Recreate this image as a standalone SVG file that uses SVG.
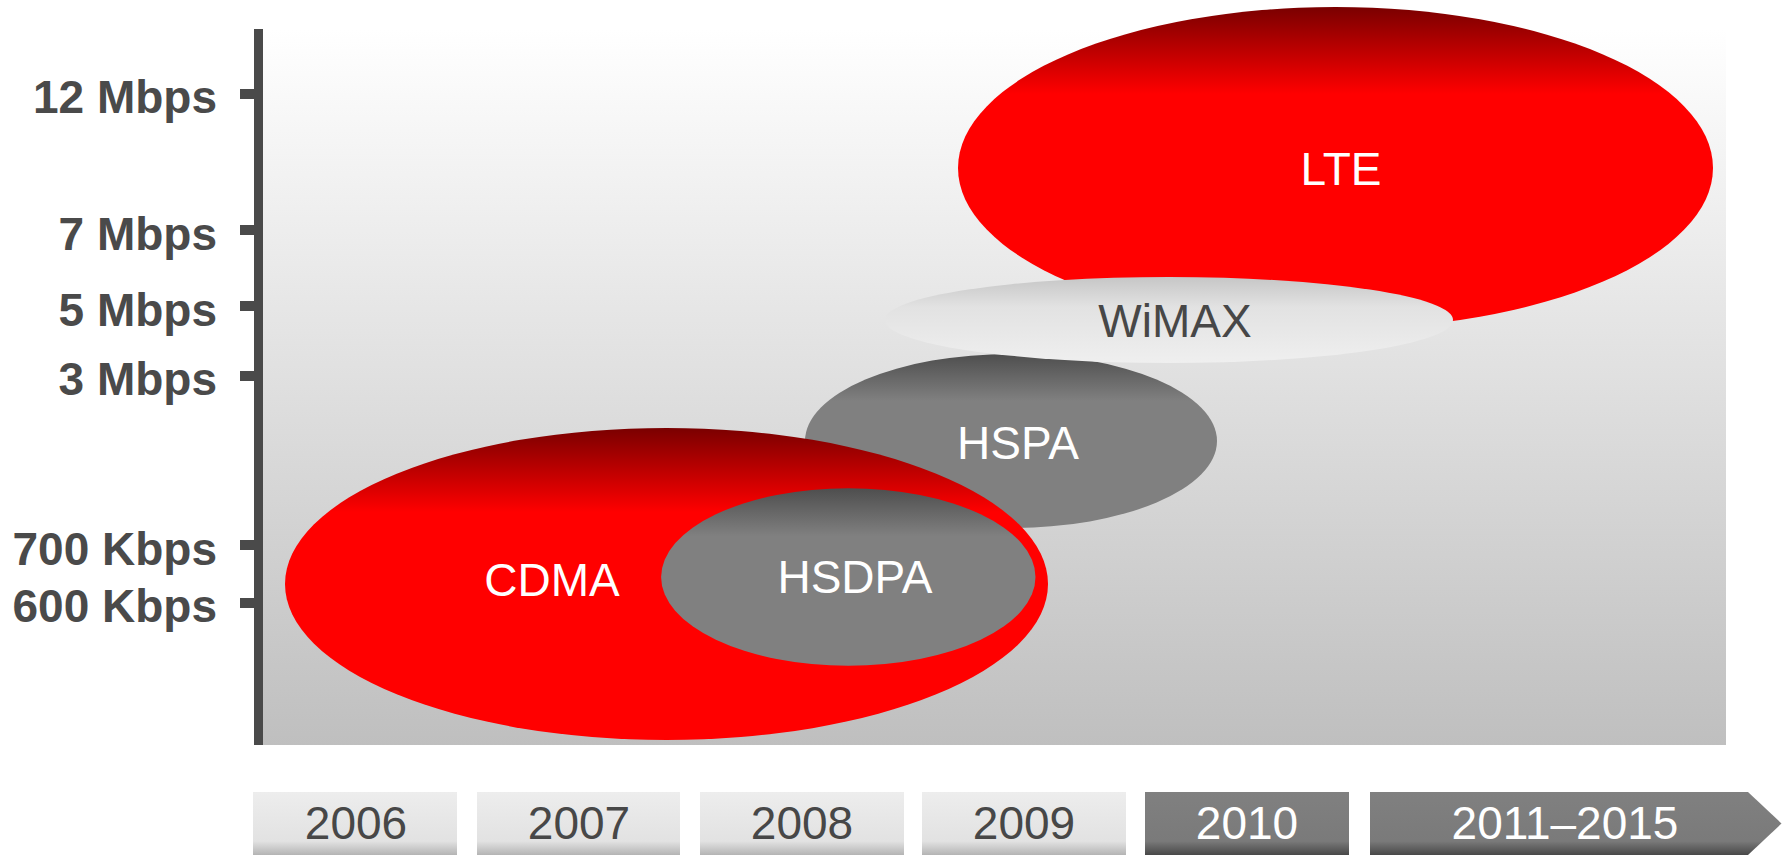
<svg xmlns="http://www.w3.org/2000/svg" width="1788" height="855" viewBox="0 0 1788 855">
  <defs>
    <linearGradient id="bg" x1="0" y1="0" x2="0" y2="1">
      <stop offset="0" stop-color="#ffffff"/>
      <stop offset="1" stop-color="#bfbfbf"/>
    </linearGradient>
    <linearGradient id="red" x1="0" y1="0" x2="0" y2="1">
      <stop offset="0" stop-color="#7a0000"/>
      <stop offset="0.27" stop-color="#ff0000"/>
      <stop offset="1" stop-color="#ff0000"/>
    </linearGradient>
    <linearGradient id="grey" x1="0" y1="0" x2="0" y2="1">
      <stop offset="0" stop-color="#4e4e4e"/>
      <stop offset="0.27" stop-color="#808080"/>
      <stop offset="1" stop-color="#808080"/>
    </linearGradient>
    <linearGradient id="wimax" x1="0" y1="0" x2="0" y2="1">
      <stop offset="0" stop-color="#c6c6c6"/>
      <stop offset="0.35" stop-color="#e2e2e2"/>
      <stop offset="1" stop-color="#efefef"/>
    </linearGradient>
    <linearGradient id="boxLight" x1="0" y1="0" x2="0" y2="1">
      <stop offset="0" stop-color="#ededed"/>
      <stop offset="0.78" stop-color="#e2e2e2"/>
      <stop offset="1" stop-color="#b4b4b4"/>
    </linearGradient>
    <linearGradient id="boxDark" x1="0" y1="0" x2="0" y2="1">
      <stop offset="0" stop-color="#808080"/>
      <stop offset="0.78" stop-color="#7a7a7a"/>
      <stop offset="1" stop-color="#484848"/>
    </linearGradient>
    <style>
      .axlbl { font-family: "Liberation Sans", Arial, sans-serif; font-size: 46px; font-weight: bold; fill: #4a4a4a; text-anchor: end; }
      .tick { fill: #4a4a4a; }
      .lbl { font-family: "Liberation Sans", Arial, sans-serif; font-size: 46px; text-anchor: middle; }
      .white { fill: #ffffff; }
      .dark { fill: #474747; }
    </style>
  </defs>

  <g id="background">
    <rect x="263" y="29" width="1463" height="716" fill="url(#bg)"/>
  </g>

  <g id="y-axis">
    <rect x="254" y="29" width="9" height="716" class="tick"/>
    <rect x="240" y="89" width="14" height="10" class="tick"/>
    <rect x="240" y="225" width="14" height="10" class="tick"/>
    <rect x="240" y="301" width="14" height="10" class="tick"/>
    <rect x="240" y="371" width="14" height="10" class="tick"/>
    <rect x="240" y="540" width="14" height="10" class="tick"/>
    <rect x="240" y="598" width="14" height="10" class="tick"/>
    <text class="axlbl" x="217" y="113">12 Mbps</text>
    <text class="axlbl" x="217" y="250">7 Mbps</text>
    <text class="axlbl" x="217" y="326">5 Mbps</text>
    <text class="axlbl" x="217" y="395">3 Mbps</text>
    <text class="axlbl" x="217" y="565">700 Kbps</text>
    <text class="axlbl" x="217" y="622">600 Kbps</text>
  </g>

  <g id="node-lte">
    <ellipse cx="1335.5" cy="168" rx="377.5" ry="161" fill="url(#red)"/>
    <text class="lbl white" x="1341" y="185">LTE</text>
  </g>

  <g id="node-hspa">
    <ellipse cx="1011" cy="441" rx="206" ry="87" fill="url(#grey)"/>
    <text class="lbl white" x="1018" y="459">HSPA</text>
  </g>

  <g id="node-wimax">
    <ellipse cx="1169" cy="320" rx="284" ry="43" fill="url(#wimax)"/>
    <text class="lbl dark" x="1175" y="337">WiMAX</text>
  </g>

  <g id="node-cdma">
    <ellipse cx="666.5" cy="584" rx="381.5" ry="156" fill="url(#red)"/>
    <text class="lbl white" x="552" y="596">CDMA</text>
  </g>

  <g id="node-hsdpa">
    <ellipse cx="848.3" cy="577" rx="187.2" ry="88.7" fill="url(#grey)"/>
    <text class="lbl white" x="855" y="593">HSDPA</text>
  </g>

  <g id="connectors"/>

  <g id="timeline">
    <g id="year-2006">
      <rect x="253" y="792" width="204" height="63" fill="url(#boxLight)"/>
      <text class="lbl dark" x="356" y="839">2006</text>
    </g>
    <g id="year-2007">
      <rect x="477" y="792" width="203" height="63" fill="url(#boxLight)"/>
      <text class="lbl dark" x="579" y="839">2007</text>
    </g>
    <g id="year-2008">
      <rect x="700" y="792" width="204" height="63" fill="url(#boxLight)"/>
      <text class="lbl dark" x="802" y="839">2008</text>
    </g>
    <g id="year-2009">
      <rect x="922" y="792" width="204" height="63" fill="url(#boxLight)"/>
      <text class="lbl dark" x="1024" y="839">2009</text>
    </g>
    <g id="year-2010">
      <rect x="1145" y="792" width="204" height="63" fill="url(#boxDark)"/>
      <text class="lbl white" x="1247" y="839">2010</text>
    </g>
    <g id="year-2011-2015">
      <polygon points="1370,792 1748,792 1781.5,823.5 1748,855 1370,855" fill="url(#boxDark)"/>
      <text class="lbl white" x="1565" y="839">2011–2015</text>
    </g>
  </g>
</svg>
